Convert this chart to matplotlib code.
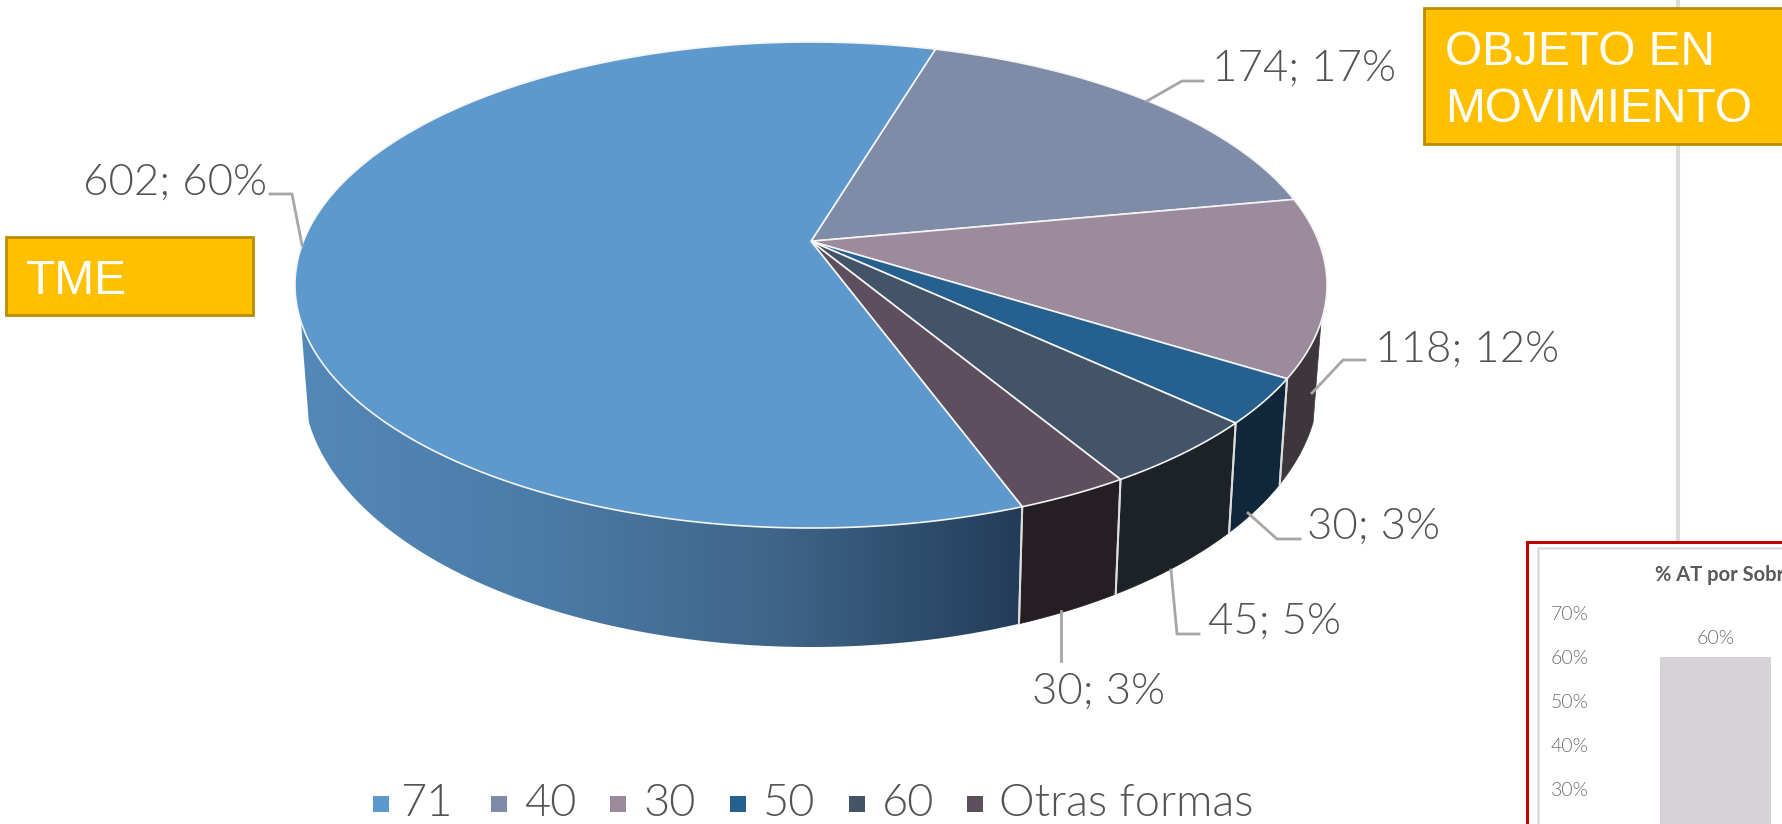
import numpy as np
import matplotlib
matplotlib.use('Agg')
import matplotlib.pyplot as plt
from matplotlib.colors import LinearSegmentedColormap
from matplotlib.patches import Polygon, Rectangle

# datos del pastel
categorias = ['71', '40', '30', '50', '60', 'Otras formas']
valores = [602, 174, 118, 30, 45, 30]
colores = ['#5E99CD', '#7F8CA8', '#9B8B9D', '#25608F', '#445468', '#5E4F5E']
colores_pared = ['#5E99CD', '#3A404C', '#3D363D', '#10263B', '#1C2228', '#261E25']

# grafico de barras recortado abajo a la derecha
barra_cat = ['']
barra_val = [60]
barra_ticks = [30, 40, 50, 60, 70]

GRIS = '#545454'
plt.rcParams['font.family'] = ['Lato', 'DejaVu Sans']

fig = plt.figure(figsize=(17.82, 8.24), dpi=100)
ax = fig.add_axes([0, 0, 1, 1])
ax.axis('off')

# geometria del pastel en pixeles: elipse superior, elipse inferior y perspectiva
cx, cy, rx, ry = 811, 285, 516, 243
cx2, cy2, rx2, ry2 = 811, 382, 508, 265
c = -0.18
inicio = 16.7


def proyectar(phi, x0, y0, a, b):
    u = np.sin(np.radians(phi))
    v = -np.cos(np.radians(phi))
    d = 1 + c * v
    return x0 + a * u * np.sqrt(1 - c ** 2) / d, y0 + b * (v + c) / d


# el orden empieza en 40 (sentido horario) y 71 cierra la vuelta
orden = [1, 2, 3, 4, 5, 0]
lim = inicio + np.cumsum([0] + [valores[i] for i in orden]) / sum(valores) * 360
apex = (cx, cy + c * ry)

pared_azul = None
for k, i in enumerate(orden):
    phi = np.linspace(lim[k], lim[k + 1], 300)
    xs, ys = proyectar(phi, cx, cy, rx, ry)
    xi, yi = proyectar(phi, cx2, cy2, rx2, ry2)
    # solo la parte frontal tiene pared visible
    frente = ys >= cy + 0.15 * ry
    if frente.any():
        pared = np.column_stack([np.r_[xs[frente], xi[frente][::-1]], np.r_[ys[frente], yi[frente][::-1]]])
        if i == 0:
            pared_azul = Polygon(pared, closed=True, fc='none', ec='none')
            ax.add_patch(pared_azul)
        else:
            ax.add_patch(Polygon(pared, closed=True, fc=colores_pared[i], ec=colores_pared[i], lw=0.5, zorder=2))
        for j in [0, -1]:
            if frente[j]:
                ax.plot([xs[j], xi[j]], [ys[j], yi[j]], color='#DDDDDD', lw=1.4, zorder=3)
    cuña = np.column_stack([np.r_[apex[0], xs], np.r_[apex[1], ys]])
    ax.add_patch(Polygon(cuña, closed=True, fc=colores[i], ec='#F4F4F4', lw=1.2, joinstyle='round', zorder=4))

# degradado de la pared azul
cmap = LinearSegmentedColormap.from_list('pared', ['#5488B8', '#4B7CA8', '#3F6488', '#233C58'])
grad = np.linspace(0, 1, 256).reshape(1, -1)
im = ax.imshow(grad, extent=(294, 1024, 824, 0), aspect='auto', cmap=cmap, zorder=1)
im.set_clip_path(pared_azul)

ax.set_xlim(0, 1782)
ax.set_ylim(824, 0)

# etiquetas de datos y lineas guia
total = sum(valores)
etiquetas = [f'{v}; {round(v / total * 100)}%' for v in valores]
etiq_xy = [(83, 183), (1212, 69), (1375, 350), (1307, 527), (1208, 622), (1032, 692)]
guias = [
    [(270, 194), (292, 194), (302, 245)],
    [(1147, 101), (1182, 81), (1203, 81)],
    [(1312, 393), (1343, 360), (1365, 360)],
    [(1248, 513), (1277, 539), (1300, 539)],
    [(1171, 570), (1177, 634), (1199, 634)],
    [(1061, 611), (1061, 661)],
]
for txt, (x, y), g in zip(etiquetas, etiq_xy, guias):
    ax.text(x, y, txt, fontsize=31.5, color=GRIS, va='center', ha='left', fontweight=300, zorder=6)
    g = np.array(g)
    ax.plot(g[:, 0], g[:, 1], color='#A6A6A6', lw=2, zorder=5, solid_joinstyle='miter')

# leyenda
ley_cuadro = [373, 491, 610, 730, 849, 967]
ley_texto = [400, 524, 643, 763, 882, 999]
for nombre, col, xc, xt in zip(categorias, colores, ley_cuadro, ley_texto):
    ax.add_patch(Rectangle((xc, 796), 16, 16, fc=col, ec='none'))
    ax.text(xt, 803, nombre, fontsize=32.5, color=GRIS, va='center', ha='left', fontweight=300)

# linea vertical y cuadros amarillos
ax.plot([1678, 1678], [0, 545], color='#DCDCDC', lw=3, zorder=1)
ax.add_patch(Rectangle((1424, 8), 400, 136, fc='#FFC000', ec='#BC8C00', lw=2, zorder=7))
ax.text(1445, 65, 'OBJETO EN', fontsize=34.5, color='white', family='Liberation Sans', va='baseline', zorder=8)
ax.text(1445, 122, 'MOVIMIENTO', fontsize=34.5, color='white', family='Liberation Sans', va='baseline', zorder=8)
ax.add_patch(Rectangle((6, 237), 247, 78, fc='#FFC000', ec='#BC8C00', lw=2, zorder=7))
ax.text(26, 294, 'TME', fontsize=34.5, color='white', family='Liberation Sans', va='baseline', zorder=8)

# marco del grafico de barras
ax.add_patch(Rectangle((1527, 542), 400, 400, fc='white', ec='#C00000', lw=2.2, zorder=7))
ax.add_patch(Rectangle((1538, 548), 400, 400, fc='white', ec='#DCDCDC', lw=1.8, zorder=7))
ax.text(1655, 581, '% AT por Sobr', fontsize=14.5, color='#595959', fontweight='bold', va='baseline', zorder=8)

ax2 = fig.add_axes([1600 / 1782, 0, 182 / 1782, (824 - 613) / 824], zorder=5)
ax2.patch.set_alpha(0)
ax2.bar(barra_cat, barra_val, width=0.6, color='#D6D2D8')
ax2.set_xlim(-0.627, 0.357)
ax2.set_ylim(70 - (824 - 613) / 4.4, 70)
ax2.set_yticks(barra_ticks)
ax2.set_yticklabels([f'{t}%' for t in barra_ticks], fontsize=14, color='#6E6E6E', fontweight=300)
ax2.tick_params(axis='y', length=0, pad=8)
ax2.tick_params(axis='x', length=0, labelbottom=False)
for s in ax2.spines.values():
    s.set_visible(False)
ax2.text(0, barra_val[0] + 2.2, f'{barra_val[0]}%', ha='center', va='bottom', fontsize=14, color='#6E6E6E', fontweight=300, clip_on=False)

fig.savefig('out.png', dpi=100)
